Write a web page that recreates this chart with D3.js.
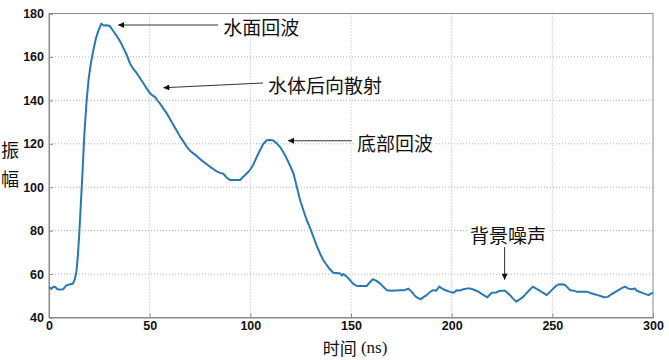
<!DOCTYPE html>
<html><head><meta charset="utf-8">
<script src="https://cdn.jsdelivr.net/npm/d3@7"></script>
<style>body{margin:0;background:#fff}</style>
</head><body>
<svg id="c" width="669" height="360"></svg>
<script>
const timeNs = [0,1.2,2.2,3.2,4.2,5.5,7,8.6,10.5,11.8,12.8,13.6,14.3,15,15.8,16.7,17.6,18.7,19.7,20.8,22,23.3,24.5,26,27.2,28.5,30.2,31.5,33,34.5,36,37.5,38.6,40.2,41.5,43.6,45,46.8,48.5,50.2,51.5,52.7,54,55.1,56.8,58.5,60.2,61.8,63.5,65.1,66.8,68.4,70,71.7,73.5,75,76.7,78.5,80,81.6,83.3,85,86.6,88.2,89.9,92.5,94.9,96.5,98.2,99.9,101.5,103.2,104.8,106.5,108.1,109.8,111.4,113,114.7,116.3,118,119.7,121.4,123,124.7,126.3,128,129.7,131.3,133,134.6,136.2,137.9,139.5,141.2,142.9,144.6,145.5,146.3,147.9,149.5,151,152.9,155.4,157.8,159,160.8,162.5,164.4,166,167.8,170,172,174.4,176.5,178.5,180.2,181.8,183.2,184.6,186,187.6,189.3,190.9,192.2,193.9,195.8,197.6,199.3,200.9,202.5,204,205.8,207.5,209.1,211,213.3,215.5,217.7,219.9,222,224,226.5,229,230.5,232,233.8,235.6,238,240.3,242,243.9,245.5,247.2,249.7,251.5,253,254.8,256.3,258.8,260.5,262.1,264.5,267.1,270.4,273,275.7,277.5,279.5,282.8,284.5,286.1,287.8,289.5,291,292,295.3,297.8,299,300];
const amplitude = [54,53.2,54.2,54.0,53.0,52.9,53.0,54.8,55.3,55.5,57.5,61,68,78,92,108,125,140,150,157,163,168.5,172,175.3,174.5,174.6,174.2,172.5,170.5,168.5,166,163,160.9,157,155,152.5,150.5,148,145.5,143.2,142.2,141.5,139.8,138.6,136.2,134,131.3,128.6,126,123.3,121,118.7,116.8,115.6,114.3,113,111.7,110.5,109.4,108.4,107.3,106.6,106.2,104.5,103.3,103.3,103.3,104.8,106.3,108,110.5,114,117,120,121.6,121.7,121.5,120.3,118.6,116.2,113.3,110,106.4,100.5,94.1,89.5,84.9,81.2,77.2,73,69.5,66.5,64.2,62.2,60.6,60.5,60.3,59.3,60,58.8,57.2,55.6,54.5,54.5,54.5,55.8,57.6,57,55.7,54.2,52.6,52.3,52.4,52.5,52.6,53.3,51.8,49.9,49,48.4,49.4,50.3,51.8,52.6,52.3,54.2,53,52.3,51.8,51.4,52.5,52.4,53,53.3,53.4,52.8,51.9,50.5,49.3,51.4,51.5,52.3,52.3,50.3,48.7,47.3,48.3,49.6,52,54.2,53.3,52.3,51.3,50.3,52.6,54.3,55.2,55.3,55,52.6,52.4,51.9,51.9,51.9,50.8,50.2,49.3,49.5,50.8,52.6,53.5,54.2,53.3,53,53.4,52.3,51.1,50.3,51,51.4];
const xTicks = [0,50,100,150,200,250,300];
const yTicks = [40,60,80,100,120,140,160,180];
const annLabels = ["水面回波","水体后向散射","底部回波","背景噪声"];
// arrow tail (x,y), arrow head (x,y), label anchor (x,y) in data units
const annTail = [[84,174.7],[106.3,148],[150.4,121.4],[226.3,72.4]];
const annHead = [[34.3,174.7],[56.8,145.8],[118.7,121.4],[226.3,57.4]];
const annText = [[86.6,174.0],[108.8,147.5],[153,120.8],[228,78]];
const annAnchor = ["start","start","start","middle"];
const xTitle = "时间";
const xUnit = " (ns)";
const yTitle = ["振","幅"];

const svg = d3.select("#c");
const L=49,R=653,T=13.5,B=317.5;
const x = d3.scaleLinear().domain([0,300]).range([L,R]);
const y = d3.scaleLinear().domain([40,180]).range([B,T]);

// grid
const grid = svg.append("g");
grid.selectAll(".gx").data(xTicks.slice(1,-1)).join("line")
  .attr("x1",d=>x(d)).attr("x2",d=>x(d)).attr("y1",T).attr("y2",B)
  .attr("stroke","#b0b0b0").attr("stroke-width",1).attr("stroke-dasharray","1,2");
grid.selectAll(".gy").data(yTicks.slice(1,-1)).join("line")
  .attr("y1",d=>y(d)).attr("y2",d=>y(d)).attr("x1",L).attr("x2",R)
  .attr("stroke","#b0b0b0").attr("stroke-width",1).attr("stroke-dasharray","1,2");

// frame
svg.append("rect").attr("x",L).attr("y",T).attr("width",R-L).attr("height",B-T)
  .attr("fill","none").attr("stroke","#8a8a8a").attr("stroke-width",1);

// axes
const ax = svg.append("g").attr("transform",`translate(0,${B})`)
  .call(d3.axisBottom(x).tickValues(xTicks).tickSize(-4).tickPadding(4).tickFormat(d3.format("d")));
const ay = svg.append("g").attr("transform",`translate(${L},0)`)
  .call(d3.axisLeft(y).tickValues(yTicks).tickSize(-4).tickPadding(5).tickFormat(d3.format("d")));
[ax,ay].forEach(a=>{
  a.select(".domain").attr("stroke","#8a8a8a");
  a.selectAll(".tick line").attr("stroke","#8a8a8a");
  a.selectAll("text").attr("font-family","Liberation Sans, Arial, sans-serif")
   .attr("font-weight","bold").attr("font-size",12.5).attr("fill","#111");
});

// data line
const line = d3.line().x((d,i)=>x(timeNs[i])).y(d=>y(d));
svg.append("path").datum(amplitude).attr("d",line)
  .attr("fill","none").attr("stroke","#2878b5").attr("stroke-width",2).attr("stroke-linejoin","round");

// arrow marker
svg.append("defs").append("marker").attr("id","ah").attr("viewBox","0 0 10 10")
  .attr("refX",10).attr("refY",5).attr("markerWidth",7).attr("markerHeight",6)
  .attr("markerUnits","userSpaceOnUse").attr("orient","auto")
  .append("path").attr("d","M0,0L10,5L0,10z").attr("fill","#111");

const ann = svg.append("g");
annLabels.forEach((lab,i)=>{
  ann.append("line")
    .attr("x1",x(annTail[i][0])).attr("y1",y(annTail[i][1]))
    .attr("x2",x(annHead[i][0])).attr("y2",y(annHead[i][1]))
    .attr("stroke","#333").attr("stroke-width",1).attr("marker-end","url(#ah)");
  const g = ann.append("g");
  const t = g.append("text").attr("x",x(annText[i][0])).attr("y",y(annText[i][1]))
    .attr("text-anchor",annAnchor[i]).attr("dominant-baseline","central")
    .attr("font-family","Noto Sans CJK SC").attr("font-size",19).attr("fill","#111").text(lab);
  const bb = t.node().getBBox();
  g.insert("rect","text").attr("x",bb.x-2).attr("y",bb.y+2).attr("width",bb.width+4).attr("height",bb.height-4).attr("fill","#fff");
});

// axis titles
const xt = svg.append("text").attr("x",355).attr("y",347).attr("text-anchor","middle")
  .attr("dominant-baseline","central").attr("font-size",17).attr("fill","#111");
xt.append("tspan").attr("font-family","Noto Sans CJK SC").text(xTitle);
xt.append("tspan").attr("font-family","Liberation Serif, serif").text(xUnit);
svg.selectAll(".yt").data(yTitle).join("text")
  .attr("x",10).attr("y",(d,i)=>148.5+i*29.5).attr("text-anchor","middle").attr("dominant-baseline","central")
  .attr("font-family","Noto Sans CJK SC").attr("font-size",18).attr("fill","#111").text(d=>d);
</script>
</body></html>
